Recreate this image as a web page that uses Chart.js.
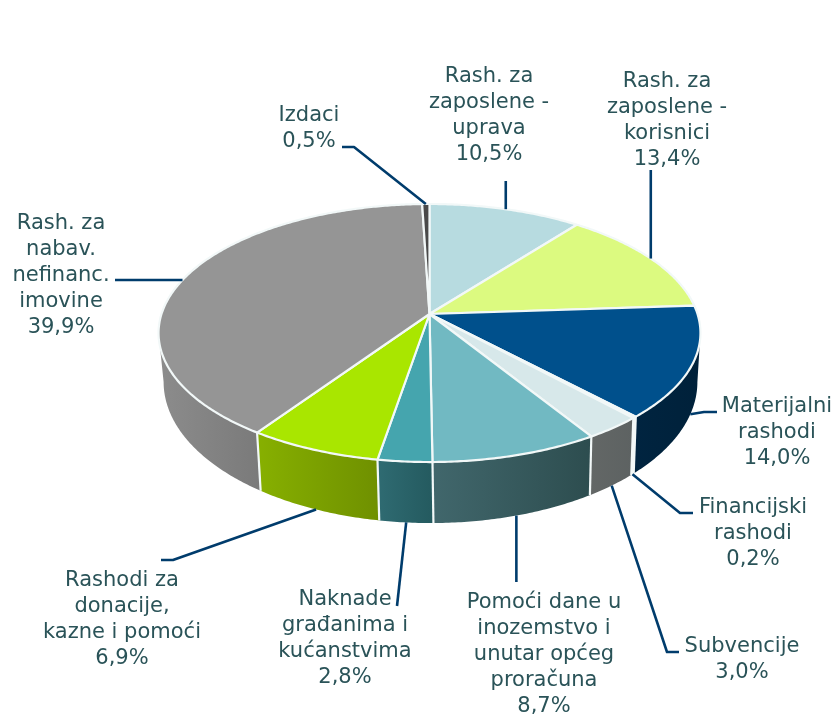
<!DOCTYPE html>
<html>
<head>
<meta charset="utf-8">
<style>html,body{margin:0;padding:0;background:#fff}canvas{display:block}</style>
<script src="https://cdn.jsdelivr.net/npm/chart.js@4/dist/chart.umd.js"></script>
</head>
<body>
<canvas id="c" width="836" height="717"></canvas>
<script>
// ---- data ----
const categories = [
  "Rash. za zaposlene - uprava",
  "Rash. za zaposlene - korisnici",
  "Materijalni rashodi",
  "Financijski rashodi",
  "Subvencije",
  "Pomoći dane u inozemstvo i unutar općeg proračuna",
  "Naknade građanima i kućanstvima",
  "Rashodi za donacije, kazne i pomoći",
  "Rash. za nabav. nefinanc. imovine",
  "Izdaci"
];
const values = [10.5, 13.4, 14.0, 0.2, 3.0, 8.7, 2.8, 6.9, 39.9, 0.5];
const valueLabels = ["10,5%", "13,4%", "14,0%", "0,2%", "3,0%", "8,7%", "2,8%", "6,9%", "39,9%", "0,5%"];
const labelLines = [
  ["Rash. za", "zaposlene -", "uprava"],
  ["Rash. za", "zaposlene -", "korisnici"],
  ["Materijalni", "rashodi"],
  ["Financijski", "rashodi"],
  ["Subvencije"],
  ["Pomoći dane u", "inozemstvo i", "unutar općeg", "proračuna"],
  ["Naknade", "građanima i", "kućanstvima"],
  ["Rashodi za", "donacije,", "kazne i pomoći"],
  ["Rash. za", "nabav.", "nefinanc.", "imovine"],
  ["Izdaci"]
];

// ---- styles ----
const topColors = ["#b7dbe0", "#dcfa80", "#00508c", "#e4eeef", "#d7e8ea", "#71b9c2", "#45a5ae", "#a9e600", "#959595", "#4a4a4a"];
const wallColors = [
  ["#8fb0b4", "#8fb0b4"], ["#a9c060", "#a9c060"],
  ["#00213a", "#002440"], ["#f4f8f8", "#f4f8f8"],
  ["#5d6262", "#636766"], ["#2d4d4f", "#41676c"],
  ["#245a5f", "#2f6b72"], ["#6f9000", "#87b000"],
  ["#7a7a7a", "#8c8c8c"], ["#555555", "#555555"]
];
const textColor = "#2a5358";
const leaderColor = "#003c6c";
const labelFont = '21px "DejaVu Sans"';
const lineGap = 26;
const seamColor = "#f2f8f8";
const seamWidth = 2.2;

// Tilted-disc projection of the library's pie geometry
const tilt = { k: 0.1473, yScale: 0.471 };
const base = { dx: 1, dy: 47.2, xScale: 0.985, yScale: 0.515 };

// label block: centre x, first line centre y; leader: outer points, lock = keep straight, edge = where it lands
const labelLayout = [
  { x: 489, y: 77, path: [[0, 181]], lock: "x", edge: "top" },
  { x: 667, y: 82, path: [[0, 170]], lock: "x", edge: "top" },
  { x: 777, y: 407, path: [[717, 412], [704, 412]], edge: "base" },
  { x: 753, y: 508, path: [[693, 513], [680, 513]], edge: "base" },
  { x: 742, y: 647, path: [[679, 652], [667, 652]], edge: "base" },
  { x: 544, y: 603, path: [[0, 582]], lock: "x", edge: "base" },
  { x: 345, y: 600, path: [[397, 606]], edge: "base" },
  { x: 122, y: 581, path: [[161, 560], [173, 560]], edge: "base" },
  { x: 61, y: 224, path: [[115, 0]], lock: "y", edge: "top" },
  { x: 309, y: 116, path: [[342, 147], [354, 147]], edge: "top" }
];

function projTop(el, a) {
  const u = Math.cos(a), v = Math.sin(a), d = 1 - tilt.k * v;
  return [el.x + el.outerRadius * u / d, el.y + el.outerRadius * tilt.yScale * v / d];
}
function projBase(el, a) {
  const u = Math.cos(a), v = Math.sin(a), d = 1 - tilt.k * v;
  return [el.x + base.dx + el.outerRadius * base.xScale * u / d, el.y + base.dy + el.outerRadius * base.yScale * v / d];
}
function steps(from, to) {
  const n = Math.max(2, Math.ceil((to - from) / 0.01));
  const out = [];
  for (let i = 0; i <= n; i++) out.push(from + (to - from) * i / n);
  return out;
}

// Arc elements keep the library's angles and radius; only their drawing is tilted.
Chart.ArcElement.prototype.draw = function (ctx) {
  ctx.save();
  ctx.beginPath();
  ctx.moveTo(this.x, this.y);
  steps(this.startAngle, this.endAngle).forEach(a => { const p = projTop(this, a); ctx.lineTo(p[0], p[1]); });
  ctx.closePath();
  ctx.fillStyle = this.options.backgroundColor;
  ctx.fill();
  ctx.lineWidth = seamWidth;
  ctx.lineJoin = "round";
  ctx.strokeStyle = seamColor;
  ctx.stroke();
  ctx.restore();
};

const tiltedPie = {
  id: "tiltedPie",
  beforeDatasetsDraw(chart) {
    const ctx = chart.ctx;
    const arcs = chart.getDatasetMeta(0).data;
    // Only the part of the rim between the two silhouette tangents is visible
    const t = Math.asin(tilt.k), lo = t, hi = Math.PI - t;
    arcs.forEach((el, i) => {
      const from = Math.max(el.startAngle, lo), to = Math.min(el.endAngle, hi);
      if (to <= from) return;
      const angles = steps(from, to);
      const topPts = angles.map(a => projTop(el, a));
      const basePts = angles.map(a => projBase(el, a));
      const xs = topPts.concat(basePts).map(p => p[0]);
      const g = ctx.createLinearGradient(Math.min(...xs), 0, Math.max(...xs), 0);
      g.addColorStop(0, wallColors[i][1]);
      g.addColorStop(1, wallColors[i][0]);
      ctx.beginPath();
      topPts.forEach((p, j) => j ? ctx.lineTo(p[0], p[1]) : ctx.moveTo(p[0], p[1]));
      basePts.reverse().forEach(p => ctx.lineTo(p[0], p[1]));
      ctx.closePath();
      ctx.fillStyle = g;
      ctx.fill();
    });
    // seams between wall sections
    ctx.strokeStyle = seamColor;
    ctx.lineWidth = seamWidth;
    arcs.forEach(el => {
      if (el.startAngle <= lo || el.startAngle >= hi) return;
      const a = projTop(el, el.startAngle), b = projBase(el, el.startAngle);
      ctx.beginPath(); ctx.moveTo(a[0], a[1]); ctx.lineTo(b[0], b[1]); ctx.stroke();
    });
  },
  afterDatasetsDraw(chart) {
    const ctx = chart.ctx;
    const arcs = chart.getDatasetMeta(0).data;
    ctx.save();
    ctx.strokeStyle = leaderColor;
    ctx.lineWidth = 2.6;
    ctx.lineJoin = "round";
    arcs.forEach((el, i) => {
      const lay = labelLayout[i];
      const mid = (el.startAngle + el.endAngle) / 2;
      const end = lay.edge === "top" ? projTop(el, mid) : projBase(el, mid);
      ctx.beginPath();
      lay.path.forEach((p, j) => {
        const px = lay.lock === "x" ? end[0] : p[0];
        const py = lay.lock === "y" ? end[1] : p[1];
        j ? ctx.lineTo(px, py) : ctx.moveTo(px, py);
      });
      ctx.lineTo(end[0], end[1]);
      ctx.stroke();
    });
    ctx.font = labelFont;
    ctx.fillStyle = textColor;
    ctx.textAlign = "center";
    ctx.textBaseline = "middle";
    arcs.forEach((el, i) => {
      const lay = labelLayout[i];
      labelLines[i].concat(valueLabels[i]).forEach((t, j) => ctx.fillText(t, lay.x, lay.y + j * lineGap));
    });
    ctx.restore();
  }
};

new Chart(document.getElementById("c"), {
  type: "pie",
  data: {
    labels: categories,
    datasets: [{ data: values, backgroundColor: topColors, borderWidth: 0 }]
  },
  options: {
    responsive: false,
    animation: false,
    events: [],
    layout: { padding: { left: 161.5, right: 138.5, top: 46, bottom: 135 } },
    plugins: { legend: { display: false }, tooltip: { enabled: false } }
  },
  plugins: [tiltedPie]
});
</script>
</body>
</html>
